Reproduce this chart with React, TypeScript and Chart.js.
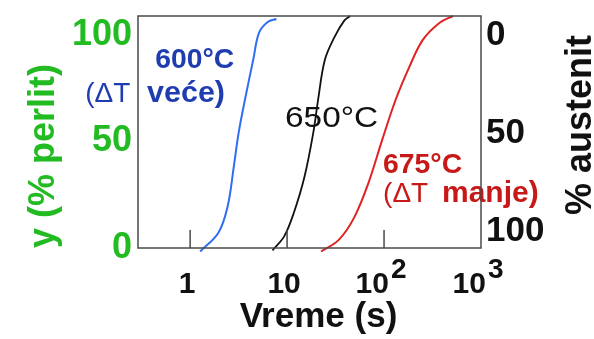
import React, { useEffect, useRef } from "react";
import { Chart, registerables } from "chart.js";

Chart.register(...registerables);

// ---- data ----
const xTickValues = [1, 10, 100, 1000];
const xTickBase = ["1", "10", "10", "10"];
const xTickSup = ["", "", "2", "3"];
const xInnerTicks = [1, 10, 100];
const perlitTicks = [0, 50, 100];
const austenitTicks = [0, 50, 100];

const time600 = [1.27, 1.95, 2.43, 2.82, 3.16, 3.72, 4.47, 5.13, 6.31, 7.76];
const perlit600 = [-1.5, 6.5, 17.7, 35, 49.5, 65, 81, 92.7, 97.4, 98.7];
const time650 = [7.08, 9.33, 11.7, 15.1, 18.6, 20.9, 24.5, 30.9, 38.9, 44.7];
const perlit650 = [-1, 5, 15, 30.6, 49.5, 64, 81, 91, 98, 100];
const time675 = [22.4, 33.9, 49, 69, 95.5, 132, 182, 251, 372, 513];
const perlit675 = [-1.5, 3.4, 13, 28, 46.5, 64, 78, 89.7, 97, 100];

const FONT = '"Liberation Sans", Arial, Helvetica, sans-serif';
const GREEN = "#22bb22";
const BLUE_TEXT = "#1f3db0";
const RED_TEXT = "#c81818";

// annotation segments anchored in data coordinates (time, % perlit)
const annotations = [
  { text: "600°C", t: 0.436, v: 77.6, color: BLUE_TEXT, bold: true, size: 27, stretch: 1.05 },
  { text: "(ΔT", t: 0.0827, v: 62.9, color: BLUE_TEXT, bold: false, size: 28, stretch: 1 },
  { text: "veće)", t: 0.36, v: 62.9, color: BLUE_TEXT, bold: true, size: 29, stretch: 1.05 },
  { text: "650°C", t: 9.53, v: 52.2, color: "#111111", bold: false, size: 29, stretch: 1.15 },
  { text: "675°C", t: 97.7, v: 32.3, color: RED_TEXT, bold: true, size: 27, stretch: 1.05 },
  { text: "(ΔT", t: 97.7, v: 19.8, color: RED_TEXT, bold: false, size: 28, stretch: 1 },
  { text: "manje)", t: 396, v: 19.8, color: RED_TEXT, bold: true, size: 30, stretch: 1 },
];

const textPlugin = {
  id: "figureTexts",
  beforeDatasetsDraw(chart: any) {
    const { ctx, scales } = chart;
    ctx.save();
    ctx.textAlign = "left";
    ctx.textBaseline = "alphabetic";
    for (const a of annotations) {
      ctx.save();
      ctx.font = `${a.bold ? "bold " : ""}${a.size}px ${FONT}`;
      ctx.fillStyle = a.color;
      ctx.translate(scales.x.getPixelForValue(a.t), scales.y.getPixelForValue(a.v));
      ctx.scale(a.stretch, 1);
      ctx.fillText(a.text, 0, 0);
      ctx.restore();
    }
    ctx.restore();
  },
  afterDraw(chart: any) {
    const { ctx, chartArea, scales } = chart;
    const { left, right, top, bottom } = chartArea;
    ctx.save();
    // frame
    ctx.strokeStyle = "#4a4a4a";
    ctx.lineWidth = 1.5;
    ctx.strokeRect(left, top, right - left, bottom - top);
    // inward ticks
    ctx.beginPath();
    for (const v of xInnerTicks) {
      const x = scales.x.getPixelForValue(v);
      ctx.moveTo(x, bottom);
      ctx.lineTo(x, bottom - 18);
    }
    ctx.stroke();

    // x tick labels
    ctx.fillStyle = "#111111";
    ctx.textBaseline = "alphabetic";
    ctx.textAlign = "left";
    xTickValues.forEach((v, i) => {
      const x = scales.x.getPixelForValue(v);
      ctx.font = `bold 30px ${FONT}`;
      const w1 = ctx.measureText(xTickBase[i]).width;
      ctx.font = `bold 28px ${FONT}`;
      const w2 = xTickSup[i] ? ctx.measureText(xTickSup[i]).width + 2 : 0;
      const x0 = x - (w1 + w2) / 2 - 3;
      ctx.font = `bold 30px ${FONT}`;
      ctx.fillText(xTickBase[i], x0, 293);
      if (xTickSup[i]) {
        ctx.font = `bold 28px ${FONT}`;
        ctx.fillText(xTickSup[i], x0 + w1 + 2, 278);
      }
    });

    // left (perlit) labels
    ctx.font = `bold 36px ${FONT}`;
    ctx.fillStyle = GREEN;
    ctx.textAlign = "right";
    for (const v of perlitTicks) {
      ctx.fillText(String(v), left - 6, scales.yl.getPixelForValue(v) + 13);
    }
    // right (austenit) labels
    ctx.fillStyle = "#111111";
    ctx.textAlign = "left";
    ctx.font = `bold 35px ${FONT}`;
    for (const v of austenitTicks) {
      ctx.fillText(String(v), right + 5, scales.yr.getPixelForValue(v) + 12.5);
    }

    // x title
    ctx.textAlign = "center";
    ctx.font = `bold 35px ${FONT}`;
    ctx.fillText("Vreme (s)", (left + right) / 2 + 9, 327);

    // left title
    ctx.save();
    ctx.translate(44, 156);
    ctx.rotate(-Math.PI / 2);
    ctx.fillStyle = GREEN;
    ctx.font = `bold 36px ${FONT}`;
    ctx.textAlign = "center";
    ctx.textBaseline = "middle";
    ctx.fillText("y (% perlit)", 0, 0);
    ctx.restore();

    // right title
    ctx.save();
    ctx.translate(591, 125);
    ctx.rotate(-Math.PI / 2);
    ctx.fillStyle = "#111111";
    ctx.font = `bold 36px ${FONT}`;
    ctx.textAlign = "center";
    ctx.textBaseline = "alphabetic";
    ctx.fillText("% austenit", 0, 0);
    ctx.restore();

    ctx.restore();
  },
};

function series(times: number[], vals: number[]) {
  return times.map((t, i) => ({ x: t, y: vals[i] }));
}

export default function App() {
  const ref = useRef<HTMLCanvasElement | null>(null);
  useEffect(() => {
    document.body.style.margin = "0";
    const canvas = ref.current;
    if (!canvas) return;
    const chart = new Chart(canvas, {
      type: "scatter",
      data: {
        datasets: [
          {
            label: "600°C",
            data: series(time600, perlit600),
            showLine: true,
            borderColor: "#2f6ef0",
            borderWidth: 2,
            pointRadius: 0,
            tension: 0.35,
            clip: false as any,
          },
          {
            label: "650°C",
            data: series(time650, perlit650),
            showLine: true,
            borderColor: "#111111",
            borderWidth: 1.8,
            pointRadius: 0,
            tension: 0.35,
            clip: false as any,
          },
          {
            label: "675°C",
            data: series(time675, perlit675),
            showLine: true,
            borderColor: "#e02222",
            borderWidth: 2,
            pointRadius: 0,
            tension: 0.35,
            clip: false as any,
          },
        ],
      },
      options: {
        responsive: false,
        animation: false,
        devicePixelRatio: 1,
        layout: { padding: { left: 138, top: 16, right: 113, bottom: 91 } },
        plugins: { legend: { display: false }, tooltip: { enabled: false } },
        scales: {
          x: { type: "logarithmic", min: 0.29, max: 1000, display: false },
          y: { type: "linear", min: 0, max: 100, display: false },
          yl: { type: "linear", min: -1.5, max: 107.4, display: false },
          yr: { type: "linear", min: -8.57, max: 110.1, reverse: true, display: false },
        },
      } as any,
      plugins: [textPlugin],
    });
    return () => chart.destroy();
  }, []);
  return (
    <div style={{ width: 594, height: 339, background: "#ffffff" }}>
      <canvas ref={ref} width={594} height={339} style={{ display: "block" }} />
    </div>
  );
}
